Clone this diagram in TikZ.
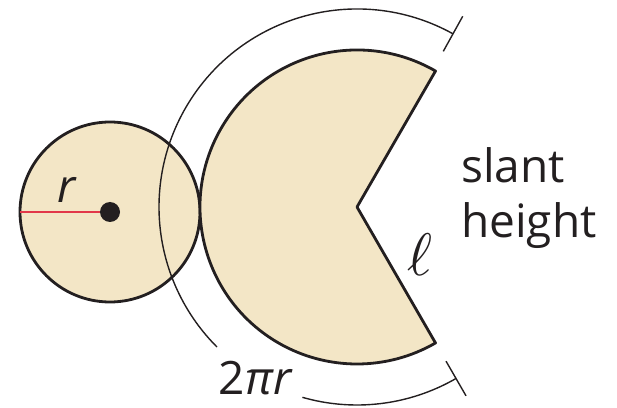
\documentclass[tikz,border=0pt]{standalone}
\usepackage{fontspec}
\usepackage{xcolor}
\usepackage{tikz}
\usetikzlibrary{calc}
\newfontfamily\lblfont{Open Sans}
\definecolor{paper}{HTML}{F3E6C6}
\definecolor{ink}{HTML}{231F20}
\definecolor{radred}{HTML}{E2384A}
\tikzset{
  solid/.style={draw=ink,fill=paper,line width=2.8pt,line join=round},
  dim/.style={draw=ink,line width=1.4pt},
  lbl/.style={font=\lblfont\fontsize{46}{55}\selectfont,text=ink,inner sep=0pt,align=left},
}

\begin{document}
\begin{tikzpicture}[x=1pt,y=1pt]
    \useasboundingbox (0,0) rectangle (617,407);
    \coordinate (base) at (110,195);
    \coordinate (apex) at (357,200);
    \draw[solid] (base) circle[radius=90];
    \draw[dim] ($(apex)+(61:198)$) arc[start angle=61,end angle=225,radius=198];
    \draw[dim] ($(apex)+(254:198)$) arc[start angle=254,end angle=300,radius=198];
    \draw[dim] ($(apex)+(61:178)$) -- ($(apex)+(61:218)$);
    \draw[dim] ($(apex)+(300:178)$) -- ($(apex)+(300:218)$);
    \draw[solid] (apex) -- ++(60:157) arc[start angle=60,end angle=300,radius=157] -- cycle;
    \coordinate (rim) at ($(base)+(-90,0)$);
    \draw[radred,line width=2.2pt] (rim) -- (base);
    \fill[ink] (base) circle[radius=10];
    \node[lbl] (rlbl) at (67,217) {\itshape r};
    \node[lbl] (arclbl) at (255,29) {2\itshape πr};
    \node[text=ink,inner sep=0pt,scale=6] (ell) at (420,152) {$\ell$};
    \node[lbl,anchor=base west] (slant) at (461,170) {slant\\height};
  \end{tikzpicture}
\end{document}
